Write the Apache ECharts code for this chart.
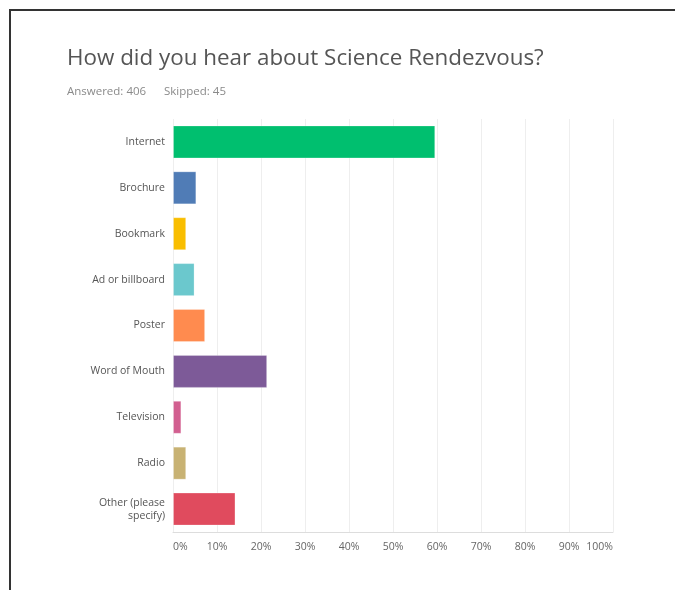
<!DOCTYPE html>
<html>
<head>
<meta charset="utf-8">
<script src="https://cdn.jsdelivr.net/npm/echarts@6/dist/echarts.min.js"></script>
<style>
html,body{margin:0;padding:0;background:#fff;overflow:hidden;}
#frame{position:absolute;left:9px;top:9px;width:700px;height:600px;border-top:2px solid #333;border-left:2px solid #333;box-sizing:border-box;}
#chart{position:absolute;left:0;top:0;width:675px;height:590px;}
</style>
</head>
<body>
<div id="frame"></div>
<div id="chart"></div>
<script>
const categories = ["Internet","Brochure","Bookmark","Ad or billboard","Poster","Word of Mouth","Television","Radio","Other (please\nspecify)"];
const values = [59.6, 5.3, 3.0, 4.9, 7.3, 21.4, 1.9, 3.0, 14.2];
const colors = ["#00BF6F","#507CB6","#F9BE00","#6BC8CD","#FF8B4F","#7D5A98","#D25F90","#C8B273","#E04B5E"];
const xTicks = [0,10,20,30,40,50,60,70,80,90,100];
const titleText = "How did you hear about Science Rendezvous?";
const subText = "Answered: 406      Skipped: 45";

const chart = echarts.init(document.getElementById('chart'));
chart.setOption({
  backgroundColor: 'transparent',
  animation: false,
  title: {
    text: titleText,
    subtext: subText,
    left: 62,
    top: 43,
    itemGap: 16,
    textStyle: {fontFamily: 'Open Sans', fontSize: 22.4, fontWeight: 'normal', color: '#555'},
    subtextStyle: {fontFamily: 'Open Sans', fontSize: 11.5, color: '#8a8a8a'}
  },
  grid: {left: 173, right: 62, top: 119, bottom: 58, containLabel: false},
  xAxis: {
    type: 'value',
    min: xTicks[0],
    max: xTicks[xTicks.length-1],
    interval: 10,
    axisLine: {show: true, lineStyle: {color: '#ddd'}},
    axisTick: {show: false},
    splitLine: {show: true, lineStyle: {color: '#eeeeee'}},
    axisLabel: {
      formatter: v => v + '%',
      fontFamily: 'Open Sans', fontSize: 10.5, color: '#666', margin: 10,
      alignMinLabel: 'left', alignMaxLabel: 'right'
    }
  },
  yAxis: {
    type: 'category',
    data: categories,
    inverse: true,
    axisLine: {show: false},
    axisTick: {show: false},
    axisLabel: {fontFamily: 'Open Sans', fontSize: 10.5, color: '#555', margin: 8, align: 'right', lineHeight: 13}
  },
  series: [{
    type: 'bar',
    barWidth: 33,
    data: values.map((v, i) => ({value: v, itemStyle: {color: colors[i]}})),
    itemStyle: {borderColor: 'rgba(255,255,255,0.25)', borderWidth: 1}
  }]
});
</script>
</body>
</html>
